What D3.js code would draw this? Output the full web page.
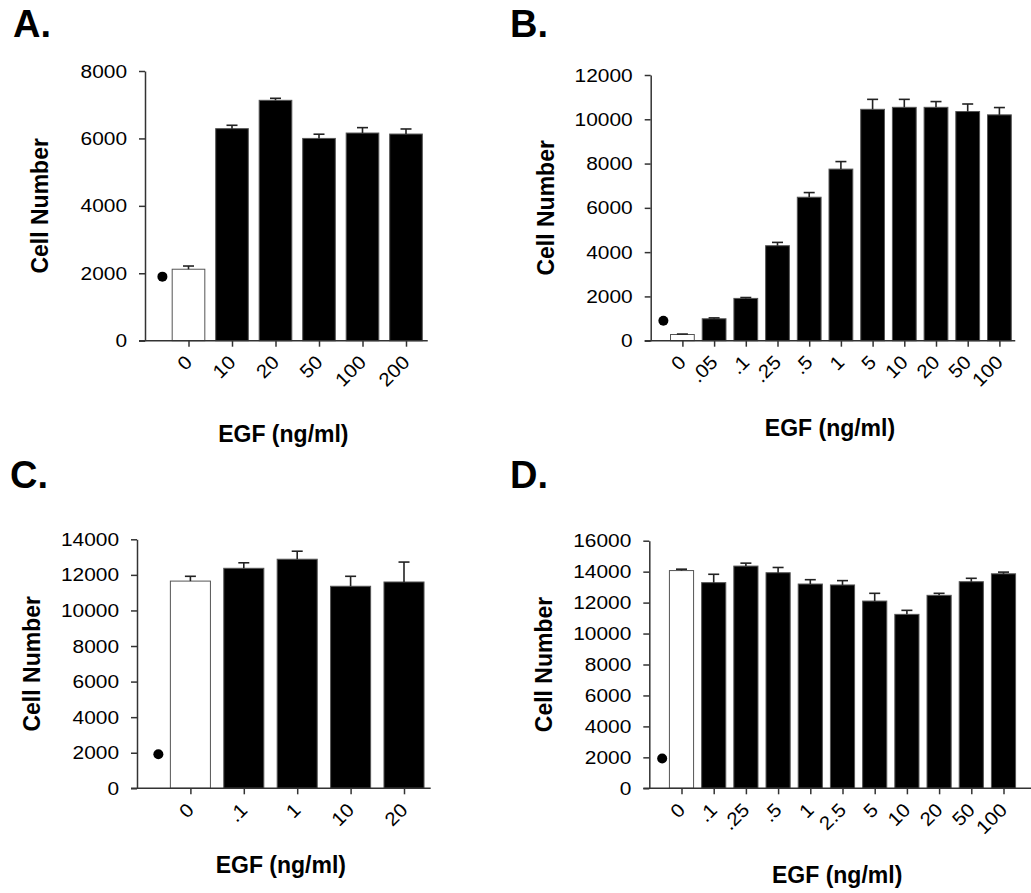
<!DOCTYPE html>
<html>

<head>
  <meta charset="utf-8">
  <script src="https://d3js.org/d3.v7.min.js"></script>
</head>
<style>
  body {
    margin: 0;
    background: #fff;
  }

  svg {
    width: 1031px;
    height: 893px;
    display: block;
  }

  text {
    font-family: "Liberation Sans", Arial, sans-serif;
    fill: #000;
  }

  .axis path,
  .axis line,
  .xline {
    stroke: #333;
    stroke-width: 1.5px;
  }

  .tick-label {
    font-size: 19px;
  }

  .title {
    font-size: 23px;
    font-weight: bold;
  }

  .letter {
    font-size: 38px;
    font-weight: bold;
  }

  .bar {
    stroke: #555;
    stroke-width: 1px;
  }

  .err {
    stroke: #222;
    stroke-width: 1.6px;
  }
</style>

<body>
  <svg id="fig"></svg>
  <script>
    // panel A
    const catsA = ["0", "10", "20", "50", "100", "200"];
    const meanA = [2120, 6290, 7130, 6000, 6160, 6130];
    const errA = [95, 100, 60, 125, 160, 150];
    const ctlA = 1900;

    // panel B
    const catsB = ["0", ".05", ".1", ".25", ".5", "1", "5", "10", "20", "50", "100"];
    const meanB = [280, 990, 1910, 4290, 6480, 7750, 10450, 10540, 10540, 10350, 10200];
    const errB = [20, 40, 40, 150, 210, 340, 450, 360, 260, 340, 330];
    const ctlB = 900;

    // panel C
    const catsC = ["0", ".1", "1", "10", "20"];
    const meanC = [11650, 12370, 12880, 11360, 11600];
    const errC = [270, 310, 450, 560, 1120];
    const ctlC = 1910;

    // panel D
    const catsD = ["0", ".1", ".25", ".5", "1", "2.5", "5", "10", "20", "50", "100"];
    const meanD = [14070, 13290, 14360, 13930, 13200, 13140, 12100, 11240, 12470, 13350, 13860];
    const errD = [90, 540, 190, 340, 280, 280, 500, 260, 130, 220, 110];
    const ctlD = 1920;

    const yMaxA = 8000, yMaxB = 12000, yMaxC = 14000, yMaxD = 16000;
    const yTitle = "Cell Number";
    const xTitle = "EGF (ng/ml)";

    var svg = d3.select("#fig");

    // layout of each panel (pixels)
    const panels = [
      { letter: "A.", lx: 13, ly: 37, cats: catsA, mean: meanA, err: errA, ctl: ctlA, yMax: yMaxA,
        axisX: 145, yTop: 71, y0: 340.7, step: 43.5, xEnd: null, titleY: 442 },
      { letter: "B.", lx: 510, ly: 37, cats: catsB, mean: meanB, err: errB, ctl: ctlB, yMax: yMaxB,
        axisX: 650.7, yTop: 75, y0: 340.7, step: 31.7, xEnd: null, titleY: 436 },
      { letter: "C.", lx: 10, ly: 488, cats: catsC, mean: meanC, err: errC, ctl: ctlC, yMax: yMaxC,
        axisX: 137, yTop: 539.3, y0: 788.3, step: 53.4, xEnd: null, titleY: 873 },
      { letter: "D.", lx: 510, ly: 488, cats: catsD, mean: meanD, err: errD, ctl: ctlD, yMax: yMaxD,
        axisX: 649.3, yTop: 540.7, y0: 788.3, step: 32.2, xEnd: 1031, titleY: 883 }
    ];

    function drawPanel(p) {
      var g = svg.append("g");
      var n = p.cats.length;

      // first slot holds the control dot, no tick
      var x = d3.scalePoint()
        .domain([""].concat(p.cats))
        .range([p.axisX, p.axisX + n * p.step]);
      var y = d3.scaleLinear()
        .domain([0, p.yMax])
        .range([p.y0, p.yTop]);

      var bw = p.step * 0.75;
      var xEnd = p.xEnd || (x(p.cats[n - 1]) + p.step / 2);

      var rows = p.cats.map(function (c, i) {
        return { cat: c, mean: p.mean[i], err: p.err[i], first: i === 0 };
      });

      // bars
      g.selectAll(".bar").data(rows).join("rect")
        .attr("class", "bar")
        .attr("x", d => x(d.cat) - bw / 2)
        .attr("width", bw)
        .attr("y", d => y(d.mean))
        .attr("height", d => y(0) - y(d.mean))
        .attr("fill", d => d.first ? "#fff" : "#000");

      // upper error bars
      var eg = g.selectAll(".errg").data(rows).join("g").attr("class", "errg");
      eg.append("line").attr("class", "err")
        .attr("x1", d => x(d.cat)).attr("x2", d => x(d.cat))
        .attr("y1", d => y(d.mean)).attr("y2", d => y(d.mean + d.err));
      eg.append("line").attr("class", "err")
        .attr("x1", d => x(d.cat) - 5.5).attr("x2", d => x(d.cat) + 5.5)
        .attr("y1", d => y(d.mean + d.err)).attr("y2", d => y(d.mean + d.err));

      // control dot
      g.append("circle")
        .attr("cx", x("") + p.step * 0.4)
        .attr("cy", y(p.ctl))
        .attr("r", 5)
        .attr("fill", "#000");

      // y axis
      var ya = g.append("g").attr("class", "axis")
        .attr("transform", "translate(" + p.axisX + ",0)")
        .call(d3.axisLeft(y)
          .tickValues(d3.range(0, p.yMax + 1, 2000))
          .tickFormat(d3.format("d"))
          .tickSize(6).tickPadding(12).tickSizeOuter(0));
      ya.selectAll("text")
        .attr("class", "tick-label")
        .attr("font-size", null).attr("font-family", null)
        .attr("transform", "scale(1.1,1)")
        .attr("x", -18 / 1.1);

      // x axis
      g.append("line").attr("class", "xline")
        .attr("x1", p.axisX - 6).attr("x2", xEnd)
        .attr("y1", p.y0).attr("y2", p.y0);
      var xa = g.append("g").attr("class", "axis")
        .attr("transform", "translate(0," + p.y0 + ")")
        .call(d3.axisBottom(x).tickValues(p.cats).tickSize(6).tickSizeOuter(0));
      xa.select(".domain").remove();
      xa.selectAll("text")
        .attr("class", "tick-label")
        .attr("font-size", null).attr("font-family", null)
        .attr("text-anchor", "end")
        .attr("x", 4).attr("y", 23).attr("dy", 0)
        .attr("transform", "rotate(-45 4 23) scale(1.08,1)");

      // titles
      g.append("text").attr("class", "title")
        .attr("transform", "translate(" + (p.axisX - 105) + "," + ((p.y0 + p.yTop) / 2) + ") rotate(-90)")
        .attr("text-anchor", "middle")
        .attr("dy", "0.35em")
        .text(yTitle);
      g.append("text").attr("class", "title")
        .attr("x", (p.axisX - 6 + xEnd) / 2)
        .attr("y", p.titleY)
        .attr("text-anchor", "middle")
        .text(xTitle);

      g.append("text").attr("class", "letter")
        .attr("x", p.lx).attr("y", p.ly)
        .text(p.letter);
    }

    panels.forEach(drawPanel);
  </script>
</body>

</html>
